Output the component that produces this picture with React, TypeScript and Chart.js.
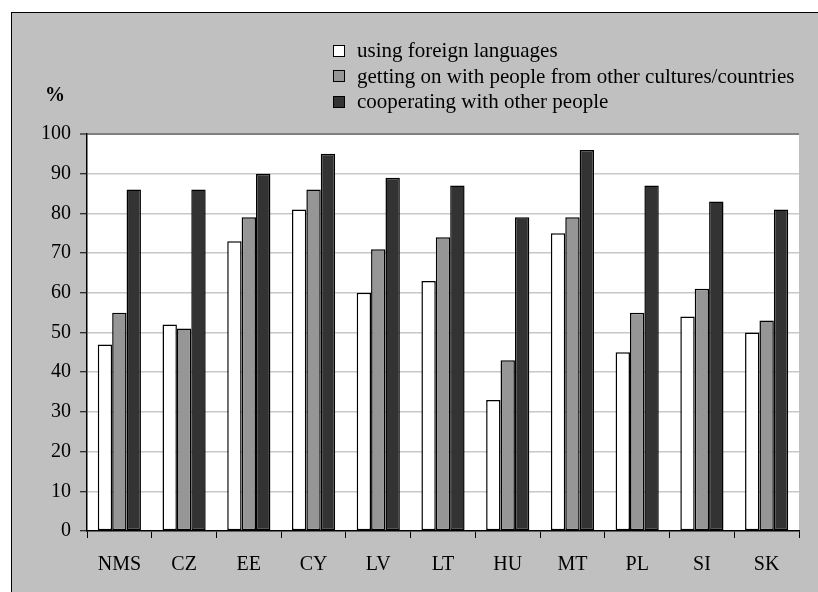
import React, { useEffect, useRef } from "react";
import { Chart, registerables } from "chart.js";

Chart.register(...registerables);

const categories = ["NMS", "CZ", "EE", "CY", "LV", "LT", "HU", "MT", "PL", "SI", "SK"];
const seriesNames = [
  "using foreign languages",
  "getting on with people from other cultures/countries",
  "cooperating with other people",
];
const foreignLanguages = [47, 52, 73, 81, 60, 63, 33, 75, 45, 54, 50];
const otherCultures = [55, 51, 79, 86, 71, 74, 43, 79, 55, 61, 53];
const cooperating = [86, 86, 90, 95, 89, 87, 79, 96, 87, 83, 81];
const seriesColors = ["#ffffff", "#969696", "#333333"];
const yTicks = [0, 10, 20, 30, 40, 50, 60, 70, 80, 90, 100];
const yAxisTitle = "%";

const FONT = '"Liberation Serif", "Times New Roman", serif';

const plotBg = {
  id: "plotBg",
  beforeDraw(chart: any) {
    const { ctx, chartArea } = chart;
    ctx.save();
    ctx.fillStyle = "#ffffff";
    ctx.fillRect(chartArea.left, chartArea.top, chartArea.right - chartArea.left, chartArea.bottom - chartArea.top);
    ctx.restore();
  },
};

export default function App() {
  const ref = useRef<HTMLCanvasElement | null>(null);

  useEffect(() => {
    document.body.style.margin = "0";
    const canvas = ref.current;
    if (!canvas) return;
    const values = [foreignLanguages, otherCultures, cooperating];
    const chart = new Chart(canvas, {
      type: "bar",
      data: {
        labels: categories,
        datasets: values.map((v, i) => ({
          label: seriesNames[i],
          data: v,
          backgroundColor: seriesColors[i],
          borderColor: "#000000",
          borderWidth: 1.5,
          borderSkipped: false,
          categoryPercentage: 0.667,
          barPercentage: 1,
        })),
      },
      options: {
        responsive: false,
        animation: false,
        events: [],
        layout: { padding: { left: 0, top: 121, right: 19, bottom: 0 } },
        plugins: {
          legend: { display: false },
          tooltip: { enabled: false },
        },
        scales: {
          x: {
            grid: {
              display: true,
              drawOnChartArea: false,
              drawTicks: true,
              tickLength: 7,
              tickColor: "#000000",
              tickWidth: 1,
              offset: true,
            },
            border: { display: true, color: "#000000", width: 1.5 },
            ticks: {
              color: "#000000",
              font: { family: FONT, size: 20 },
              padding: 15,
              maxRotation: 0,
              autoSkip: false,
            },
            afterFit(scale: any) {
              scale.height = 61;
            },
          },
          y: {
            min: 0,
            max: 100,
            afterBuildTicks(scale: any) {
              scale.ticks = yTicks.map((v) => ({ value: v }));
            },
            grid: {
              color: (c: any) => (c.tick && c.tick.value === 100 ? "#808080" : "#c8c8c8"),
              lineWidth: (c: any) => (c.tick && c.tick.value === 100 ? 2 : 1.5),
              drawTicks: true,
              tickLength: 7,
              tickColor: "#000000",
              tickWidth: 1,
            },
            border: { display: true, color: "#000000", width: 1.5 },
            ticks: {
              color: "#000000",
              font: { family: FONT, size: 20 },
              padding: 9,
            },
            afterFit(scale: any) {
              scale.width = 75;
            },
          },
        },
      },
      plugins: [plotBg],
    });
    return () => chart.destroy();
  }, []);

  return (
    <div style={{ position: "relative", width: 818, height: 592, background: "#ffffff", overflow: "hidden", fontFamily: FONT }}>
      <div
        style={{
          position: "absolute",
          left: 11,
          top: 12,
          width: 840,
          height: 620,
          background: "#c0c0c0",
          border: "1px solid #000000",
          boxSizing: "border-box",
        }}
      />
      <canvas ref={ref} width={806} height={579} style={{ position: "absolute", left: 12, top: 13, width: 806, height: 579 }} />
      <div style={{ position: "absolute", left: 45, top: 82, fontSize: 20, fontWeight: "bold", color: "#000", lineHeight: "24px", fontFamily: FONT }}>
        {yAxisTitle}
      </div>
      <div style={{ position: "absolute", left: 333, top: 38, color: "#000", fontFamily: FONT }}>
        {seriesNames.map((name, i) => (
          <div key={name} style={{ display: "flex", alignItems: "center", height: 25.5, fontSize: 21, whiteSpace: "nowrap", fontFamily: FONT }}>
            <span
              style={{
                display: "inline-block",
                width: 10,
                height: 10,
                background: seriesColors[i],
                border: "1px solid #000",
                marginRight: 12,
              }}
            />
            <span>{name}</span>
          </div>
        ))}
      </div>
    </div>
  );
}
